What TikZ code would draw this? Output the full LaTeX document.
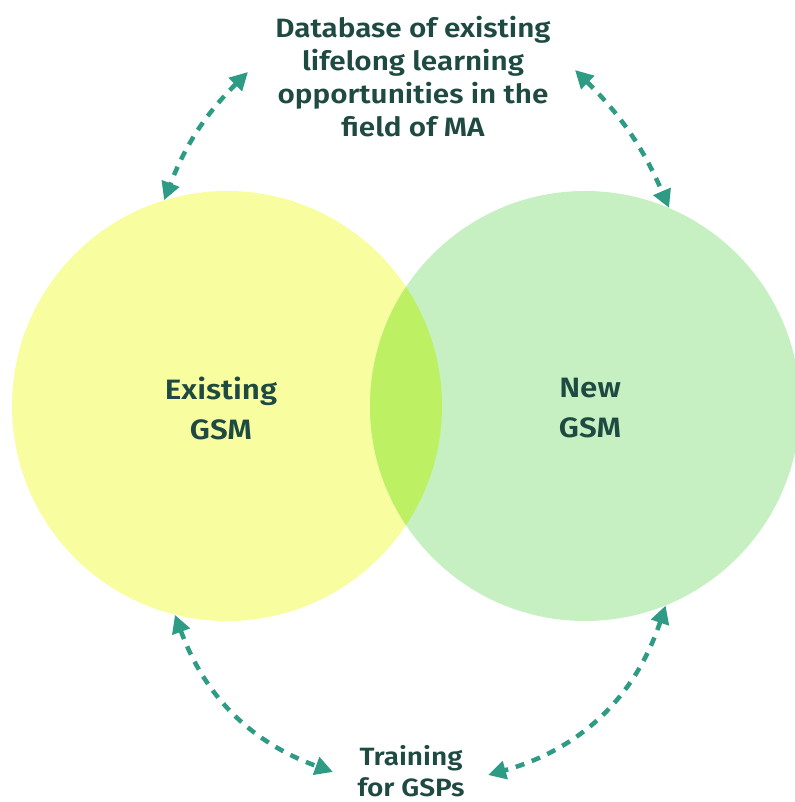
\documentclass[tikz,border=0pt]{standalone}
\usepackage{fontspec}
\setmainfont{Fira Sans}[BoldFont={Fira Sans SemiBold}, BoldFeatures={FakeStretch=1.12}]
\usetikzlibrary{arrows.meta}
\definecolor{txt}{HTML}{1E4A42}
\definecolor{arr}{HTML}{2E9B84}
\definecolor{yel}{HTML}{F8FD9F}
\definecolor{grn}{HTML}{C6F0C1}
\definecolor{lime}{HTML}{BDF062}
\tikzset{
  venn/.style={circle, minimum size=430pt, inner sep=0pt, draw=none},
  lbl/.style={align=center, text=txt, font=\bfseries\fontsize{26.5}{33}\selectfont},
  biglbl/.style={align=center, text=txt, font=\bfseries\fontsize{28}{40}\selectfont},
  link/.style={draw=arr, line width=4.5pt, dash pattern=on 9pt off 8pt,
    {Triangle[length=18pt,width=18pt]}-{Triangle[length=18pt,width=18pt]}}
}
\begin{document}
\begin{tikzpicture}[x=1pt,y=1pt]
\useasboundingbox (0,0) rectangle (794,802);
\node[venn, fill=yel] (L) at (227,396) {};
\node[venn, fill=grn] (R) at (585,396) {};
\begin{scope}
  \clip (227,396) circle (215pt);
  \fill[lime] (585,396) circle (215pt);
\end{scope}
\node[biglbl] (lt) at (221,394) {Existing\\GSM};
\node[biglbl] (rt) at (590,394) {New\\GSM};
\node[lbl] (db) at (413,725) {Database of existing\\lifelong learning\\opportunities in the\\field of MA};
\node[lbl, font=\bfseries\fontsize{25}{31}\selectfont] (tr) at (411,31) {Training\\for GSPs};
\coordinate (dbL) at (248,730);
\coordinate (dbR) at (575,732);
\coordinate (trL) at (333,30);
\coordinate (trR) at (488,27);
\draw[link] (dbL) to[bend right=12] (L.107);
\draw[link] (dbR) to[bend left=11] (R.67);
\draw[link] (L.256) to[bend right=25] (trL);
\draw[link] (R.292) to[bend left=28] (trR);
\end{tikzpicture}
\end{document}
